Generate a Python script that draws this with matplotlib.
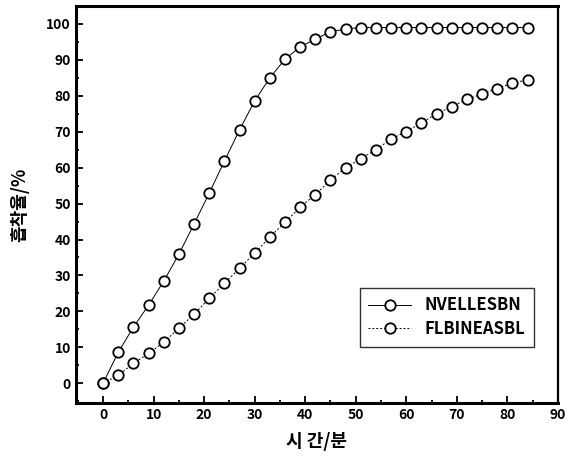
import matplotlib.pyplot as plt
from matplotlib.ticker import MultipleLocator

plt.rcParams['font.family'] = ['Liberation Sans Narrow', 'Noto Sans CJK KR', 'DejaVu Sans']

# 시간 (분)
times = list(range(0, 87, 3))

# 위쪽 곡선
upper = [0, 8.6, 15.6, 21.7, 28.4, 35.9, 44.3, 52.9, 61.8, 70.5,
         78.6, 85.0, 90.2, 93.6, 95.8, 97.8, 98.6, 99.0, 99.0, 99.0,
         99.0, 99.0, 99.0, 99.0, 99.0, 99.0, 99.0, 99.0, 99.0]
# 아래쪽 곡선
lower = [0, 2.2, 5.5, 8.3, 11.4, 15.3, 19.2, 23.6, 27.8, 32.0,
         36.2, 40.7, 44.8, 49.0, 52.5, 56.5, 60.0, 62.5, 65.0, 68.0,
         70.0, 72.5, 75.0, 77.0, 79.0, 80.5, 82.0, 83.5, 84.5]

labels = ["NVELLESBN", "FLBINEASBL"]

fig = plt.figure(figsize=(5.74, 4.59), dpi=100)
ax = fig.add_axes([0.132, 0.122, 0.840, 0.865])

ax.plot(times, upper, color="black", lw=0.7, ls="-", marker="o", ms=7.5,
        mfc="white", mec="black", mew=1.3, label=labels[0])
ax.plot(times, lower, color="black", lw=0.7, ls=(0, (2, 2)), marker="o", ms=7.5,
        mfc="white", mec="black", mew=1.3, label=labels[1])

ax.set_xlim(-5.4, 90)
ax.set_ylim(-5.5, 105)
ax.xaxis.set_major_locator(MultipleLocator(10))
ax.xaxis.set_minor_locator(MultipleLocator(5))
ax.yaxis.set_major_locator(MultipleLocator(10))
ax.yaxis.set_minor_locator(MultipleLocator(5))
ax.tick_params(which="major", direction="in", length=5, width=1.3, labelsize=10)
ax.tick_params(which="minor", direction="in", length=2.5, width=1.3)
for t in ax.get_xticklabels() + ax.get_yticklabels():
    t.set_fontweight("bold")

for side in ["left", "bottom", "top"]:
    ax.spines[side].set_linewidth(2.2)
ax.spines["right"].set_linewidth(1.6)

ax.set_xlabel("시 간/분", fontsize=13, fontweight="bold",
              family=['Noto Sans CJK KR', 'DejaVu Sans'], labelpad=7)
ax.set_ylabel("흡착율/%", fontsize=13, fontweight="bold",
              family=['Noto Sans CJK KR', 'DejaVu Sans'], labelpad=12)

leg = ax.legend(loc="lower right", bbox_to_anchor=(0.967, 0.121), fontsize=12,
                frameon=True, fancybox=False, edgecolor="black",
                handlelength=2.6, borderpad=0.5, labelspacing=0.35,
                prop={"weight": "bold", "size": 12})
leg.get_frame().set_linewidth(1.0)

fig.savefig("out.png", dpi=100)
